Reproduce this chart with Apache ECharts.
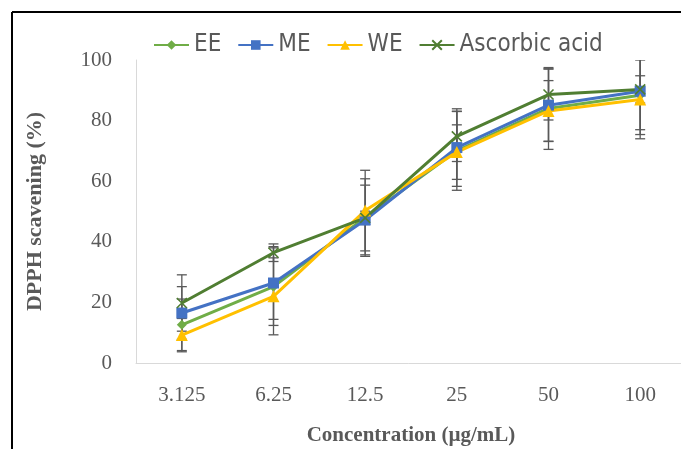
<!DOCTYPE html>
<html>
<head>
<meta charset="utf-8">
<script src="https://cdn.jsdelivr.net/npm/echarts@6/dist/echarts.min.js"></script>
<style>
html,body{margin:0;padding:0;background:#fff;}
#main{width:681px;height:449px;}
</style>
</head>
<body>
<div id="main"></div>
<script>
var categories = ['3.125', '6.25', '12.5', '25', '50', '100'];
var eeVals = [12.6, 25.2, 48.0, 70.0, 84.0, 88.4];
var meVals = [16.5, 26.4, 47.2, 71.1, 85.1, 89.7];
var weVals = [9.2, 22.0, 50.3, 69.6, 83.2, 87.0];
var ascVals = [19.8, 36.4, 47.9, 74.8, 88.6, 90.3];
// standard deviations (error bars)
var eeErr = [8.5, 12.8, 12.8, 13.0, 13.5, 13.0];
var meErr = [8.7, 12.0, 11.5, 12.8, 12.0, 12.7];
var weErr = [5.5, 12.7, 13.3, 9.0, 10.0, 13.0];
var ascErr = [9.3, 2.9, 2.2, 8.3, 8.4, 4.5];
var yTicks = [0, 20, 40, 60, 80, 100];

var chart = echarts.init(document.getElementById('main'));

function errData(vals, errs){
	var out = [];
	for(var i=0;i<vals.length;i++){
		out.push([i, vals[i]-errs[i], vals[i]+errs[i]]);
	}
	return out;
}
function renderErr(params, api){
	var x = api.value(0);
	var lo = api.coord([x, api.value(1)]);
	var hi = api.coord([x, api.value(2)]);
	var hw = 5;
	var st = {stroke:'#595959', lineWidth:1.3};
	return {
		type:'group',
		children:[
			{type:'line', shape:{x1:lo[0], y1:lo[1], x2:hi[0], y2:hi[1]}, style:st},
			{type:'line', shape:{x1:lo[0]-hw, y1:lo[1], x2:lo[0]+hw, y2:lo[1]}, style:st},
			{type:'line', shape:{x1:hi[0]-hw, y1:hi[1], x2:hi[0]+hw, y2:hi[1]}, style:st}
		]
	};
}
function errSeries(vals, errs){
	return {type:'custom', renderItem:renderErr, data:errData(vals, errs), z:1, clip:true, silent:true};
}
function lineSeries(name, vals, color, symbol, size){
	return {
		name:name, type:'line', data:vals, z:3,
		symbol:symbol, symbolSize:size,
		lineStyle:{color:color, width:3},
		itemStyle:{color:color}
	};
}

var asc = lineSeries('Ascorbic acid', ascVals, '#507E32', 'path://M0,0L10,10M10,0L0,10', 10);
asc.itemStyle = {color:'#507E32', borderColor:'#507E32', borderWidth:1.6};

var option = {
	backgroundColor:'#fff',
	animation:false,
	color:['#70AD47','#4472C4','#FFC000','#507E32'],
	legend:{
		top:28, left:148,
		itemWidth:35, itemHeight:12, itemGap:16,
		textStyle:{fontFamily:'"Liberation Sans Narrow", "DejaVu Sans Condensed", "Liberation Sans"', fontSize:24, color:'#595959'},
		data:['EE','ME','WE','Ascorbic acid']
	},
	grid:{left:136, right:-5, top:60, bottom:86, outerBoundsMode:'none', containLabel:false},
	xAxis:{
		type:'category', data:categories, boundaryGap:true,
		axisLine:{lineStyle:{color:'#D9D9D9', width:1}},
		axisTick:{show:false},
		axisLabel:{margin:22, color:'#595959', fontFamily:'"Liberation Serif"', fontSize:21},
		name:'Concentration (µg/mL)', nameLocation:'middle', nameGap:62,
		nameTextStyle:{fontFamily:'"Liberation Serif"', fontWeight:'bold', fontSize:21, color:'#595959'}
	},
	yAxis:{
		type:'value', min:yTicks[0], max:yTicks[yTicks.length-1], interval:20,
		axisLine:{show:true, lineStyle:{color:'#D9D9D9', width:1}},
		axisTick:{show:false},
		splitLine:{show:false},
		axisLabel:{margin:24, color:'#595959', fontFamily:'"Liberation Serif"', fontSize:21},
		name:'DPPH scavening (%)', nameLocation:'middle', nameGap:90,
		nameTextStyle:{fontFamily:'"Liberation Serif"', fontWeight:'bold', fontSize:22, color:'#595959'}
	},
	graphic:[
		{type:'line', shape:{x1:12, y1:12, x2:690, y2:12}, style:{stroke:'#000', lineWidth:2}},
		{type:'line', shape:{x1:12, y1:12, x2:12, y2:460}, style:{stroke:'#000', lineWidth:2}}
	],
	series:[
		errSeries(eeVals, eeErr),
		errSeries(meVals, meErr),
		errSeries(weVals, weErr),
		errSeries(ascVals, ascErr),
		lineSeries('EE', eeVals, '#70AD47', 'diamond', 10),
		lineSeries('ME', meVals, '#4472C4', 'rect', 11),
		lineSeries('WE', weVals, '#FFC000', 'triangle', 12),
		asc
	]
};
chart.setOption(option);
</script>
</body>
</html>
